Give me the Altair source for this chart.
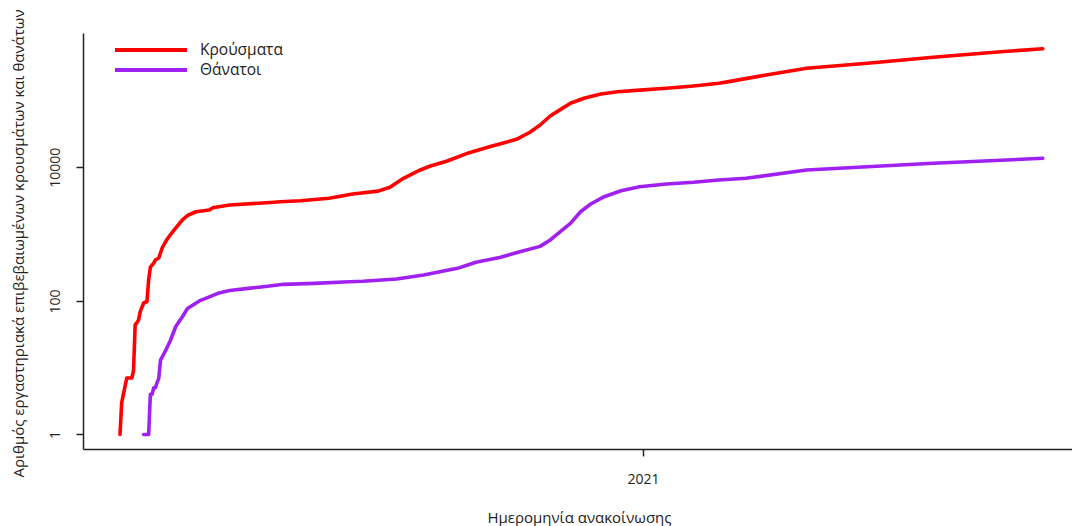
import altair as alt
import pandas as pd

# Day offsets are counted from the first announced case.
START = "2020-02-26"

SERIES = ["Κρούσματα", "Θάνατοι"]
COLORS = ["#ff0000", "#a020f0"]

case_days = [0, 1, 2, 4, 7, 8, 9, 10, 11, 12,
             14, 16, 17, 18, 20, 21, 23, 25, 28, 32,
             37, 40, 45, 53, 55, 65, 87, 95, 107, 124,
             138, 153, 160, 168, 178, 184, 194, 207, 219, 225,
             235, 243, 249, 255, 261, 267, 275, 285, 295, 308,
             324, 340, 355, 360, 383, 407, 443, 482, 522, 547]
case_vals = [1, 3, 4, 7, 7, 9, 44, 47, 52, 69,
             93, 98, 210, 320, 369, 410, 439, 620, 845, 1150,
             1630, 1900, 2160, 2300, 2480, 2720, 2950, 3050, 3160, 3450,
             3980, 4400, 5020, 6840, 9120, 10450, 12420, 16550, 20340, 22300,
             26250, 33500, 43000, 58600, 73000, 90800, 107900, 125100, 135500, 143000,
             152300, 164900, 180900, 190000, 241000, 303400, 360600, 443500, 538000, 596000]

death_days = [14, 17, 18, 19, 20, 21, 22, 23, 24, 27,
              30, 33, 35, 37, 40, 47, 53, 58, 65, 76,
              85, 97, 115, 136, 144, 164, 180, 200, 211, 225,
              237, 249, 255, 261, 267, 273, 279, 287, 297, 308,
              324, 340, 355, 371, 407, 443, 482, 547]
death_vals = [1, 1, 4, 4, 5, 5, 6, 7, 13, 18,
              26, 41, 49, 58, 77, 100, 115, 130, 143, 154,
              163, 177, 183, 194, 197, 213, 244, 307, 378, 445,
              545, 655, 816, 1087, 1450, 2164, 2824, 3630, 4466, 5125,
              5623, 5960, 6457, 6843, 9117, 10210, 11480, 13640]

Y_TICKS = [1, 100, 10000]

base = pd.Timestamp(START)
rows = []
for name, days, vals in [(SERIES[0], case_days, case_vals),
                         (SERIES[1], death_days, death_vals)]:
    for d, v in zip(days, vals):
        rows.append({"date": base + pd.Timedelta(days=d), "value": v, "series": name})
df = pd.DataFrame(rows)

FONT = "Open Sans"
INK = "#222222"

x_axis = alt.Axis(
    values=[alt.DateTime(year=2021, month=1, date=1)],
    format="%Y",
    title="Ημερομηνία ανακοίνωσης",
    titleX=496, titleY=68, titleAlign="center", titleBaseline="middle",
    labelBaseline="middle", labelPadding=23,
    grid=False,
)

y_axis = alt.Axis(
    values=Y_TICKS,
    format="d",
    labelAngle=270, labelAlign="center", labelBaseline="middle",
    labelPadding=21,
    title="Αριθμός εργαστηριακά επιβεβαιωμένων κρουσμάτων και θανάτων",
    titleAngle=270, titleX=-65, titleY=210, titleAlign="center",
    titleBaseline="middle",
    grid=False,
)

chart = (
    alt.Chart(df)
    .mark_line(strokeWidth=3.6, strokeCap="round", strokeJoin="round")
    .encode(
        x=alt.X(
            "date:T",
            scale=alt.Scale(
                domain=[
                    alt.DateTime(year=2020, month=2, date=4, hours=1, minutes=41),
                    alt.DateTime(year=2021, month=9, date=12, hours=7, minutes=12),
                ],
                nice=False,
            ),
            axis=x_axis,
        ),
        y=alt.Y(
            "value:Q",
            scale=alt.Scale(type="log", domain=[0.6066, 1024500], nice=False),
            axis=y_axis,
        ),
        color=alt.Color(
            "series:N",
            scale=alt.Scale(domain=SERIES, range=COLORS),
            legend=alt.Legend(
                title=None,
                orient="none",
                legendX=30,
                legendY=7.25,
                padding=0,
                symbolType="stroke",
                symbolSize=5184,
                symbolStrokeWidth=4,
                clipHeight=19.5,
                rowPadding=0,
                labelOffset=11,
                labelFont=FONT,
                labelFontSize=15.5,
                labelColor=INK,
            ),
        ),
    )
    .properties(
        width=989,
        height=416,
        autosize=alt.AutoSizeParams(type="none"),
        padding={"left": 83, "top": 33, "right": 0, "bottom": 77},
    )
    .configure_view(stroke=None)
    .configure_axis(
        domainColor=INK,
        domainWidth=1.5,
        tickColor=INK,
        tickWidth=1.5,
        tickSize=7,
        labelFont=FONT,
        labelFontSize=14,
        labelColor=INK,
        titleFont=FONT,
        titleFontSize=15,
        titleFontWeight="normal",
        titleColor=INK,
    )
)

chart.save("out.html", embed_options={"renderer": "svg", "actions": False})
